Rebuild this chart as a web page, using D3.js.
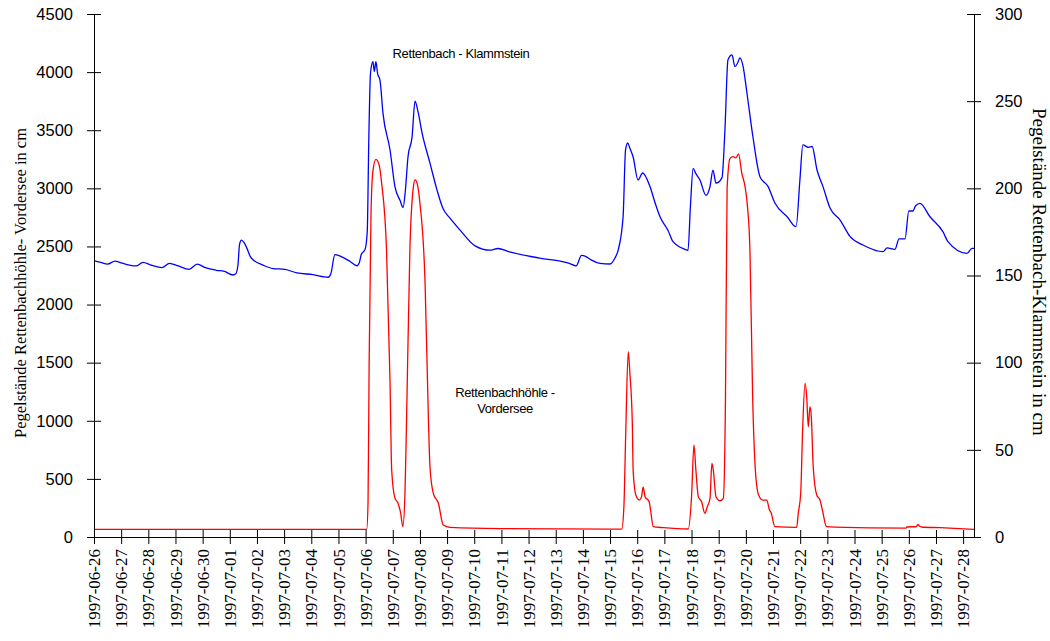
<!DOCTYPE html>
<html>
<head>
<meta charset="utf-8">
<script src="https://cdn.jsdelivr.net/npm/d3@7"></script>
<style>
  body { margin: 0; background: #fff; }
  svg { display: block; }
</style>
</head>
<body>
<div id="chart"></div>
<script>
// time in days since 1997-06-26 00:00, levels in cm
const blueDays = [0, 0.25, 0.5, 0.77, 1.0, 1.3, 1.55, 1.8, 2.1, 2.5, 2.78, 3.1, 3.5, 3.8, 4.1, 4.5, 4.8, 5.12, 5.22, 5.3, 5.36, 5.43, 5.52, 5.62, 5.75, 5.9, 6.22, 6.59, 7.03, 7.47, 8.06, 8.62, 8.72, 8.87, 9.0, 9.43, 9.68, 9.76, 9.84, 9.98, 10.06, 10.12, 10.18, 10.27, 10.32, 10.38, 10.44, 10.53, 10.64, 10.9, 11.08, 11.27, 11.38, 11.46, 11.56, 11.71, 11.82, 11.93, 12.08, 12.37, 12.63, 12.85, 13.1, 13.48, 14.03, 14.58, 14.87, 15.3, 16.4, 17.5, 17.75, 17.95, 18.1, 18.3, 18.63, 19.0, 19.18, 19.3, 19.48, 19.57, 19.65, 19.73, 19.85, 20.03, 20.2, 20.47, 20.66, 20.84, 21.13, 21.32, 21.76, 21.87, 21.96, 22.06, 22.14, 22.31, 22.53, 22.68, 22.79, 22.9, 23.12, 23.23, 23.34, 23.49, 23.6, 23.7, 23.78, 23.9, 24.04, 24.26, 24.52, 24.82, 25.07, 25.52, 25.85, 25.99, 26.1, 26.3, 26.44, 26.62, 26.84, 27.1, 27.47, 27.84, 28.31, 29.05, 29.2, 29.49, 29.64, 29.86, 30.0, 30.15, 30.25, 30.41, 30.78, 31.26, 31.44, 32.14, 32.33, 32.4];
const blueCm = [158.5, 157.5, 156.5, 158.3, 157.3, 156, 155.5, 157.5, 156, 154.5, 157, 155.5, 153.5, 156.5, 154.5, 153, 152.3, 150.3, 151, 156, 168, 170.3, 169, 166, 161, 158.5, 156, 154, 153.5, 151.5, 150.5, 149, 151, 162, 161.5, 158, 155.6, 157, 162, 165, 175, 230, 266, 272.6, 267, 272.6, 266, 262, 243, 222, 201, 193, 189, 198, 218, 229.4, 250, 244, 231.7, 214.5, 199, 188.4, 183, 176, 167, 164.5, 165.5, 163.5, 160, 157, 155.5, 161.5, 161, 159, 157, 156.6, 160, 164.6, 183.6, 222, 226, 223, 218, 204.8, 208.8, 201, 191.6, 183.7, 176, 169.4, 165, 164.4, 190, 211.5, 209, 204.8, 196, 201, 210.5, 203, 206, 233.5, 273.6, 276.5, 269.8, 272, 274.8, 269.8, 254.7, 229.6, 206.7, 201, 191.6, 183.7, 178, 204.8, 224.9, 223.5, 224, 210.5, 201, 188.7, 181.8, 172.3, 167.5, 163.7, 165.8, 165, 171, 171, 187, 187, 190, 191.4, 183.7, 175, 169.4, 162.7, 165.6, 165.5];

const redDays = [0, 10.04, 10.09, 10.13, 10.2, 10.27, 10.38, 10.5, 10.59, 10.77, 10.9, 10.96, 11.08, 11.19, 11.29, 11.37, 11.45, 11.51, 11.63, 11.76, 11.82, 11.9, 12.0, 12.19, 12.31, 12.37, 12.49, 12.68, 12.86, 13.11, 14.95, 19.0, 19.43, 19.51, 19.58, 19.67, 19.73, 19.82, 19.85, 19.95, 20.08, 20.16, 20.22, 20.29, 20.44, 20.5, 20.59, 20.96, 21.88, 22.0, 22.09, 22.16, 22.25, 22.37, 22.49, 22.58, 22.68, 22.75, 22.8, 22.9, 23.05, 23.17, 23.25, 23.31, 23.42, 23.53, 23.63, 23.73, 23.85, 23.97, 24.06, 24.15, 24.25, 24.35, 24.47, 24.62, 24.77, 24.87, 24.93, 25.07, 25.87, 25.93, 26.02, 26.09, 26.18, 26.24, 26.3, 26.36, 26.41, 26.48, 26.61, 26.73, 26.83, 26.97, 28.57, 29.9, 29.93, 30.28, 30.33, 30.4, 30.47, 31.15, 32.4];
const redCm = [65, 65, 300, 1500, 2800, 3150, 3250, 3200, 3046, 2470, 1325, 577, 335, 292, 206, 90, 378, 1035, 2470, 3015, 3072, 3040, 2872, 2183, 1035, 605, 378, 290, 103, 83, 72, 68, 68, 261, 921, 1595, 1409, 978, 577, 361, 318, 347, 428, 347, 304, 218, 89, 80, 69, 347, 792, 577, 347, 304, 204, 261, 333, 634, 577, 347, 312, 333, 1200, 3000, 3259, 3273, 3262, 3296, 3130, 3015, 2843, 2470, 1207, 577, 361, 318, 318, 232, 209, 89, 83, 204, 376, 921, 1323, 1207, 949, 1121, 1035, 605, 361, 318, 218, 89, 78, 76, 86, 90, 109, 92, 86, 80, 66];

const leftTicks = [0, 500, 1000, 1500, 2000, 2500, 3000, 3500, 4000, 4500];
const rightTicks = [0, 50, 100, 150, 200, 250, 300];

const startDate = new Date(1997, 5, 26);
const lastTick = new Date(1997, 6, 28);
const toDate = d => new Date(startDate.getTime() + d * 864e5);

const W = 1050, H = 641;
const plot = { left: 94, right: 974, top: 14, bottom: 537 };

const svg = d3.select("#chart").append("svg")
  .attr("width", W)
  .attr("height", H);

const x = d3.scaleTime().domain([startDate, toDate(32.4)]).range([plot.left, plot.right]);
const yL = d3.scaleLinear().domain([0, 4500]).range([plot.bottom, plot.top]);
const yR = d3.scaleLinear().domain([0, 300]).range([plot.bottom, plot.top]);

const sans = "'Liberation Sans', Arial, sans-serif";
const serif = "'Liberation Serif', 'Times New Roman', serif";

// lines
const blueData = blueDays.map((d, i) => ({ t: toDate(d), v: blueCm[i] }));
const redData = redDays.map((d, i) => ({ t: toDate(d), v: redCm[i] }));

svg.append("path")
  .datum(blueData)
  .attr("fill", "none")
  .attr("stroke", "#0000ff")
  .attr("stroke-width", 1.3)
  .attr("d", d3.line().curve(d3.curveMonotoneX).x(d => x(d.t)).y(d => yR(d.v)));

svg.append("path")
  .datum(redData)
  .attr("fill", "none")
  .attr("stroke", "#ff0000")
  .attr("stroke-width", 1.3)
  .attr("d", d3.line().curve(d3.curveMonotoneX).x(d => x(d.t)).y(d => yL(d.v)));

// left axis
const gL = svg.append("g")
  .attr("transform", `translate(${plot.left},0)`)
  .call(d3.axisLeft(yL).tickValues(leftTicks).tickFormat(d3.format("d")).tickSizeOuter(0));
gL.selectAll(".tick line").attr("x1", -7).attr("x2", 7);
gL.selectAll("text").attr("font-family", sans).attr("font-size", 16.5).attr("fill", "#000").attr("x", -21);

// right axis
const gR = svg.append("g")
  .attr("transform", `translate(${plot.right},0)`)
  .call(d3.axisRight(yR).tickValues(rightTicks).tickFormat(d3.format("d")).tickSizeOuter(0));
gR.selectAll(".tick line").attr("x1", -7).attr("x2", 7);
gR.selectAll("text").attr("font-family", sans).attr("font-size", 16.5).attr("fill", "#000").attr("x", 21);

// bottom axis
const gB = svg.append("g")
  .attr("transform", `translate(0,${plot.bottom})`)
  .call(d3.axisBottom(x)
    .tickValues(d3.timeDay.range(startDate, d3.timeDay.offset(lastTick, 1)))
    .tickFormat(d3.timeFormat("%Y-%m-%d"))
    .tickSizeOuter(0));
gB.selectAll(".tick line").attr("y1", -7).attr("y2", 7);
gB.selectAll("text")
  .attr("font-family", serif)
  .attr("font-size", 17)
  .attr("fill", "#000")
  .attr("text-anchor", "end")
  .attr("transform", "rotate(-90)")
  .attr("x", -12)
  .attr("y", 0)
  .attr("dy", "0.33em");

[gL, gR, gB].forEach(g => g.select(".domain").attr("stroke", "#000"));

// axis titles
svg.append("text")
  .attr("transform", "translate(26,283) rotate(-90)")
  .attr("text-anchor", "middle")
  .attr("font-family", serif)
  .attr("font-size", 16.5)
  .text("Pegelstände Rettenbachhöhle- Vordersee in cm");

svg.append("text")
  .attr("transform", "translate(1033,108) rotate(90)")
  .attr("text-anchor", "start")
  .attr("font-family", serif)
  .attr("font-size", 19)
  .text("Pegelstände Rettenbach-Klammstein in cm");

// series labels
svg.append("text")
  .attr("x", 461).attr("y", 58)
  .attr("text-anchor", "middle")
  .attr("font-family", sans)
  .attr("font-size", 13)
  .attr("letter-spacing", -0.4)
  .text("Rettenbach - Klammstein");

svg.append("text")
  .attr("x", 505).attr("y", 397)
  .attr("text-anchor", "middle")
  .attr("font-family", sans)
  .attr("font-size", 13)
  .attr("letter-spacing", -0.4)
  .text("Rettenbachhöhle -");

svg.append("text")
  .attr("x", 505).attr("y", 413)
  .attr("text-anchor", "middle")
  .attr("font-family", sans)
  .attr("font-size", 13)
  .attr("letter-spacing", -0.4)
  .text("Vordersee");
</script>
</body>
</html>
